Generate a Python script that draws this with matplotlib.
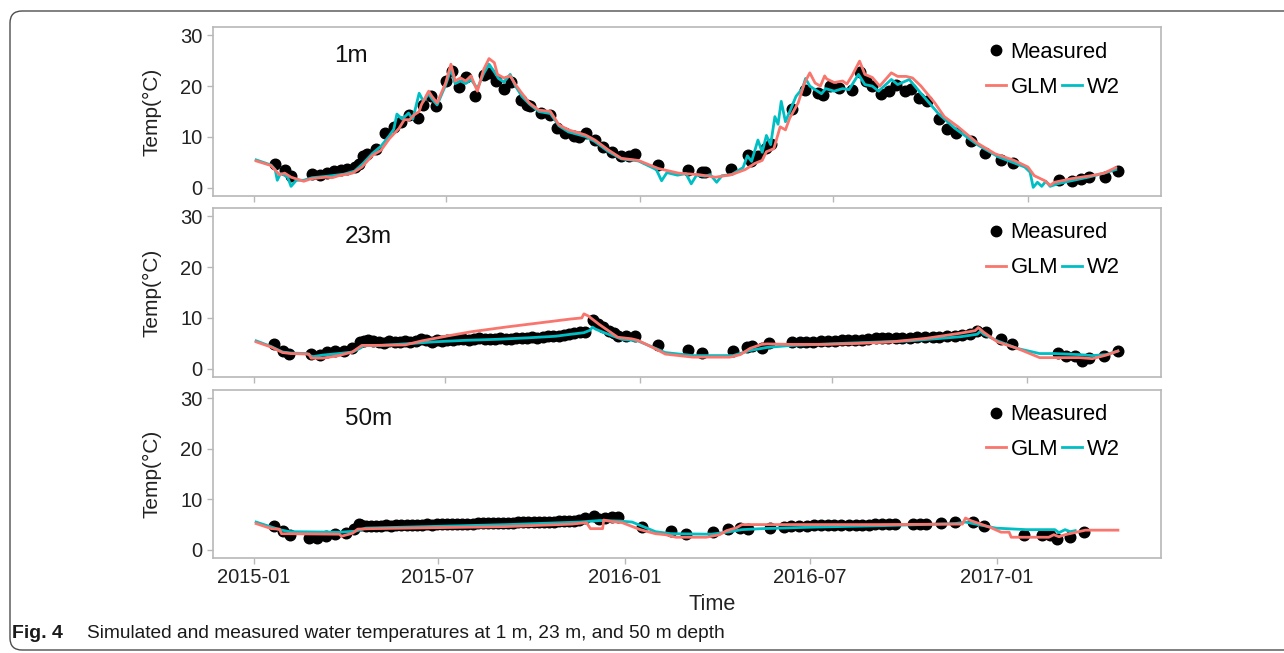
import numpy as np
import matplotlib
matplotlib.use('Agg')
import matplotlib.pyplot as plt
import matplotlib.dates as mdates
from matplotlib.lines import Line2D
from matplotlib.patches import FancyBboxPatch
from matplotlib.transforms import IdentityTransform

plt.rcParams['font.family'] = ['Liberation Sans', 'DejaVu Sans']

start = np.datetime64('2015-01-01')
depth_labels = ['1m', '23m', '50m']
glm_color = '#F8766D'
w2_color = '#00BFC4'

# ---- 1 m (days since 2015-01-01, temperature in degC)
meas1_day = [20, 29, 35, 55, 62, 69, 76, 82, 88, 95, 99, 103, 107, 115, 124, 132, 139, 146, 155, 160,
             167, 172, 181, 187, 194, 200, 209, 217, 222, 229, 236, 243, 252, 258, 261, 271, 280, 286,
             294, 302, 307, 314, 322, 330, 338, 347, 354, 360, 382, 410, 423, 426, 451, 467, 469, 476,
             484, 488, 508, 520, 533, 537, 544, 553, 565, 572, 578, 584, 592, 600, 606, 615, 621, 628,
             636, 647, 655, 663, 677, 690, 706, 717, 760, 773, 781, 789, 804, 816]
meas1_temp = [4.7, 3.6, 2.4, 2.8, 2.6, 2.9, 3.3, 3.6, 3.8, 4.1, 4.6, 6.2, 6.7, 7.7, 10.8, 12.0, 13.0, 14.3,
              13.7, 16.3, 18.0, 16.1, 21.0, 22.9, 19.8, 21.8, 18.1, 22.1, 22.6, 21.0, 19.4, 20.8, 17.2,
              16.3, 16.0, 14.7, 14.3, 11.7, 10.8, 10.2, 9.9, 10.8, 9.5, 8.1, 7.1, 6.2, 6.2, 6.6, 4.5,
              3.6, 3.2, 3.2, 3.8, 6.4, 5.2, 6.3, 7.8, 8.7, 15.5, 19.2, 18.6, 18.3, 20.0, 19.7, 19.3,
              22.7, 21.0, 20.0, 18.5, 19.0, 20.3, 19.0, 19.4, 17.7, 17.0, 13.5, 11.6, 10.8, 9.3, 6.9,
              5.4, 4.9, 1.5, 1.4, 1.7, 2.2, 2.1, 3.4]
glm1_day = [2, 16, 24, 29, 35, 47, 54, 68, 74, 80, 93, 102, 112, 120, 128, 137, 142, 147, 151, 156, 158,
            165, 168, 173, 181, 186, 190, 195, 200, 205, 211, 217, 222, 227, 230, 236, 242, 247, 253,
            260, 269, 280, 288, 297, 313, 322, 335, 347, 363, 382, 401, 420, 436, 451, 464, 473, 480,
            484, 491, 497, 502, 506, 514, 520, 525, 530, 535, 539, 541, 548, 556, 560, 565, 572, 577,
            584, 591, 602, 608, 616, 622, 630, 643, 652, 665, 684, 700, 718, 731, 737, 747, 752, 756,
            772, 791, 803, 814]
glm1_temp = [5.3, 4.4, 2.6, 2.9, 2.1, 1.3, 1.8, 2.1, 2.0, 2.4, 2.9, 4.1, 6.4, 7.4, 9.7, 11.7, 13.4, 13.4,
             14.3, 15.0, 16.3, 19.0, 18.0, 16.7, 20.6, 24.3, 21.0, 21.6, 21.0, 22.0, 19.0, 23.3, 25.4,
             24.6, 22.3, 21.6, 22.0, 20.3, 18.6, 16.7, 15.3, 15.0, 12.4, 11.4, 10.4, 9.4, 7.4, 5.8,
             5.4, 3.8, 2.9, 2.6, 2.1, 2.6, 3.6, 4.8, 5.4, 7.1, 7.7, 12.0, 11.4, 13.7, 16.7, 20.6, 22.6,
             20.6, 20.0, 22.0, 21.4, 20.7, 21.0, 20.4, 22.1, 24.9, 22.3, 21.7, 20.0, 22.6, 21.9, 21.9,
             21.6, 20.0, 16.7, 14.0, 12.0, 8.7, 6.7, 5.4, 4.1, 2.4, 1.4, 0.5, 1.1, 1.8, 2.4, 2.9, 4.0]
w21_day = [2, 16, 20, 22, 25, 29, 32, 35, 40, 47, 55, 70, 85, 95, 103, 112, 120, 128, 132, 135, 140,
           146, 150, 156, 160, 165, 168, 173, 181, 186, 190, 195, 200, 205, 211, 217, 222, 227, 231,
           236, 242, 247, 253, 260, 269, 280, 288, 297, 313, 322, 335, 347, 363, 380, 385, 390, 400,
           408, 413, 418, 426, 431, 437, 442, 451, 462, 466, 470, 476, 480, 484, 488, 492, 495, 498,
           502, 506, 512, 518, 521, 525, 530, 536, 540, 548, 556, 562, 571, 577, 584, 590, 602, 608,
           619, 627, 646, 662, 684, 703, 728, 733, 736, 740, 744, 748, 752, 759, 772, 788, 803, 814]
w21_temp = [5.5, 4.5, 3.6, 1.5, 2.8, 2.5, 2.0, 0.3, 1.5, 1.5, 2.0, 2.3, 2.7, 3.3, 4.8, 6.8, 8.2, 10.3,
            11.5, 14.5, 13.5, 14.7, 13.5, 18.6, 17.0, 18.5, 17.5, 16.3, 20.2, 23.3, 20.5, 21.0, 20.5,
            21.3, 19.5, 22.5, 24.3, 22.8, 21.5, 20.8, 22.3, 20.0, 18.0, 16.5, 15.0, 14.6, 12.2, 11.0,
            10.1, 9.1, 7.1, 5.7, 5.3, 3.6, 1.4, 3.0, 2.5, 2.8, 0.8, 2.5, 2.3, 2.6, 1.1, 2.4, 2.6, 4.0,
            6.3, 5.2, 9.4, 7.0, 10.3, 8.5, 14.0, 12.5, 17.0, 13.0, 15.0, 18.0, 19.5, 21.5, 20.0, 19.3,
            18.5, 19.5, 19.0, 19.5, 19.3, 22.3, 20.3, 20.0, 19.0, 21.3, 20.3, 21.3, 19.3, 14.7, 11.7,
            8.4, 6.1, 4.1, 3.1, 0.1, 1.1, 0.3, 1.3, 0.3, 0.8, 1.4, 2.1, 2.9, 3.6]

# ---- 23 m
meas23_day = [19, 27, 33, 54, 62, 69, 77, 85, 93, 100, 104, 108, 113, 118, 123, 128, 133, 138, 143, 148,
              153, 158, 163, 168, 173, 178, 183, 188, 193, 198, 203, 208, 213, 218, 223, 228, 233, 238,
              243, 248, 253, 258, 263, 268, 273, 278, 283, 288, 293, 298, 303, 308, 313, 321, 325, 330,
              336, 340, 344, 352, 360, 382, 410, 424, 453, 466, 471, 480, 487, 509, 516, 522, 529, 536,
              543, 549, 556, 562, 568, 575, 581, 588, 594, 600, 607, 613, 620, 627, 635, 642, 648, 655,
              663, 670, 677, 684, 692, 706, 717, 760, 768, 776, 783, 790, 804, 817]
meas23_temp = [4.9, 3.6, 2.9, 2.9, 2.7, 3.4, 3.6, 3.6, 4.0, 5.2, 5.5, 5.6, 5.5, 5.2, 5.1, 5.4, 5.3, 5.3,
               5.5, 5.3, 5.4, 5.8, 5.6, 5.3, 5.6, 5.5, 5.6, 5.7, 5.8, 5.9, 5.6, 5.9, 6.1, 5.9, 5.8, 5.9,
               6.0, 5.8, 5.9, 6.0, 6.1, 6.1, 6.2, 6.1, 6.3, 6.4, 6.5, 6.5, 6.7, 6.8, 7.0, 7.3, 7.2, 9.6,
               8.9, 8.2, 7.5, 7.0, 6.5, 6.5, 6.5, 4.6, 3.7, 3.2, 3.5, 4.2, 4.5, 4.1, 5.0, 5.2, 5.2, 5.2,
               5.3, 5.4, 5.5, 5.5, 5.6, 5.7, 5.7, 5.7, 5.9, 6.0, 6.1, 6.1, 6.1, 6.1, 6.1, 6.2, 6.2, 6.2,
               6.3, 6.4, 6.5, 6.7, 6.9, 7.5, 7.2, 5.9, 4.9, 3.2, 2.6, 2.5, 1.6, 2.2, 2.5, 3.5]
glm23_day = [2, 16, 27, 35, 52, 54, 65, 80, 93, 102, 112, 143, 159, 184, 206, 238, 269, 300, 310, 312,
             316, 326, 344, 357, 363, 380, 389, 415, 450, 460, 469, 480, 485, 508, 540, 572, 604, 636,
             668, 682, 685, 690, 703, 722, 743, 757, 780, 793, 806, 817]
glm23_temp = [5.3, 4.3, 3.2, 3.0, 2.9, 2.1, 2.1, 2.6, 3.3, 4.6, 4.6, 4.7, 5.5, 6.5, 7.3, 8.2, 9.0, 9.8,
              10.0, 10.8, 10.4, 8.8, 6.2, 5.9, 5.6, 3.9, 2.9, 2.3, 2.3, 2.8, 4.0, 4.8, 4.9, 4.8, 4.8,
              5.0, 5.3, 6.0, 7.0, 7.5, 8.1, 7.2, 5.3, 4.0, 2.2, 2.2, 2.2, 2.0, 2.7, 3.5]
w223_day = [2, 16, 27, 35, 50, 53, 56, 65, 80, 93, 100, 104, 120, 150, 170, 200, 230, 260, 285, 300,
            312, 318, 320, 323, 330, 340, 348, 363, 389, 415, 453, 469, 485, 508, 556, 620, 668, 684,
            687, 690, 703, 722, 743, 757, 780, 793, 806, 817]
w223_temp = [5.5, 4.4, 3.3, 3.1, 3.0, 2.6, 2.4, 2.7, 3.0, 3.3, 4.0, 4.6, 4.6, 5.0, 5.3, 5.6, 5.8, 6.1,
             6.4, 6.8, 7.1, 7.6, 8.2, 7.8, 7.2, 6.4, 5.8, 5.5, 3.2, 2.6, 2.6, 3.6, 4.2, 4.6, 5.0, 5.5,
             6.3, 6.8, 7.4, 6.8, 5.5, 4.0, 3.0, 3.0, 2.8, 2.6, 2.8, 3.5]

# ---- 50 m
meas50_day = [20, 28, 35, 54, 62, 71, 80, 90, 98, 103, 105, 110, 115, 120, 125, 130, 135, 140, 145, 150,
              155, 160, 165, 170, 175, 180, 185, 190, 195, 200, 205, 210, 215, 220, 225, 230, 235, 240,
              245, 250, 255, 260, 265, 270, 275, 280, 285, 290, 295, 300, 305, 310, 315, 320, 326, 334,
              339, 345, 352, 358, 382, 410, 425, 452, 466, 478, 486, 508, 521, 528, 536, 544, 551, 558,
              565, 571, 578, 585, 592, 598, 605, 611, 618, 625, 631, 648, 655, 661, 676, 690, 707, 718,
              758, 775, 783, 790, 803, 817]
meas50_temp = [4.8, 3.7, 2.9, 2.4, 2.4, 2.7, 3.1, 3.3, 4.1, 5.2, 4.9, 4.8, 4.7, 4.8, 4.8, 4.9, 4.8, 4.9,
               5.0, 5.0, 4.9, 5.0, 5.0, 5.1, 5.0, 5.1, 5.1, 5.1, 5.2, 5.2, 5.2, 5.2, 5.2, 5.3, 5.3, 5.3,
               5.3, 5.4, 5.4, 5.4, 5.4, 5.5, 5.5, 5.5, 5.5, 5.5, 5.6, 5.6, 5.6, 5.7, 5.7, 5.7, 5.8, 6.0,
               6.3, 6.6, 6.1, 6.3, 6.5, 6.5, 4.6, 3.8, 3.2, 3.5, 4.1, 4.4, 4.1, 4.4, 4.6, 4.7, 4.8, 4.8,
               4.9, 4.9, 4.9, 4.9, 4.9, 5.0, 5.0, 5.0, 5.0, 5.1, 5.1, 5.1, 5.1, 5.2, 5.2, 5.2, 5.4, 5.6,
               5.6, 4.7, 3.0, 3.0, 3.0, 2.1, 2.6, 3.5]
glm50_day = [2, 17, 25, 27, 84, 86, 97, 102, 116, 182, 247, 313, 327, 331, 343, 344, 352, 362, 380, 395,
             405, 415, 445, 458, 465, 475, 480, 528, 612, 697, 700, 705, 725, 735, 743, 745, 782, 787,
             792, 798, 818, 850]
glm50_temp = [5.2, 4.2, 4.1, 3.2, 3.1, 2.7, 3.3, 4.1, 4.2, 4.4, 4.6, 5.1, 5.4, 4.2, 4.2, 5.9, 5.6, 5.4,
              4.0, 3.2, 3.0, 2.5, 2.5, 3.0, 3.8, 4.4, 5.0, 5.0, 5.0, 5.1, 6.3, 5.8, 4.4, 3.5, 3.5, 2.5,
              2.5, 3.0, 2.6, 3.0, 3.9, 3.9]
w250_day = [2, 25, 35, 85, 100, 110, 150, 250, 320, 340, 360, 372, 395, 410, 450, 465, 480, 500, 550,
            620, 690, 700, 730, 760, 788, 792, 798, 803, 808]
w250_temp = [5.5, 4.0, 3.6, 3.5, 3.7, 4.3, 4.5, 5.0, 5.5, 5.8, 5.7, 5.5, 3.6, 3.2, 3.1, 3.5, 4.0, 4.2,
             4.5, 4.8, 5.2, 5.5, 4.3, 4.0, 4.0, 3.4, 4.0, 3.6, 3.8]

panels = [
    (meas1_day, meas1_temp, glm1_day, glm1_temp, w21_day, w21_temp),
    (meas23_day, meas23_temp, glm23_day, glm23_temp, w223_day, w223_temp),
    (meas50_day, meas50_temp, glm50_day, glm50_temp, w250_day, w250_temp),
]


def to_dates(days):
    return start + np.array(days, dtype='timedelta64[D]')


fig = plt.figure(figsize=(12.84, 6.53), dpi=100)

# rounded frame around the figure + caption
frame = FancyBboxPatch((10, 3), 1400, 639, boxstyle='round,pad=0,rounding_size=12',
                       transform=IdentityTransform(), facecolor='none',
                       edgecolor='#4d4d4d', linewidth=1.0)
fig.add_artist(frame)
fig.text(12 / 1284, 1 - 634 / 653, 'Fig. 4', fontsize=14, fontweight='bold',
         va='center', color='#1a1a1a')
fig.text(87 / 1284, 1 - 634 / 653,
         'Simulated and measured water temperatures at 1 m, 23 m, and 50 m depth',
         fontsize=13.8, va='center', color='#1a1a1a')

rects = [(0.1659, 0.6998, 0.7383, 0.2588),
         (0.1659, 0.4227, 0.7383, 0.2588),
         (0.1659, 0.1455, 0.7383, 0.2573)]
label_x = [0.128, 0.139, 0.139]

for i, (rect, data) in enumerate(zip(rects, panels)):
    md, mt, gd, gt, wd, wt = data
    ax = fig.add_axes(rect)
    ax.scatter(to_dates(md), mt, s=58, color='black', zorder=2)
    ax.plot(to_dates(wd), wt, color=w2_color, lw=2.0, zorder=3)
    ax.plot(to_dates(gd), gt, color=glm_color, lw=2.0, zorder=4)

    ax.set_ylim(-1.6, 31.6)
    ax.set_yticks([0, 10, 20, 30])
    ax.xaxis.set_major_locator(mdates.MonthLocator(bymonth=[1, 7]))
    ax.xaxis.set_major_formatter(mdates.DateFormatter('%Y-%m'))
    for sp in ax.spines.values():
        sp.set_color('#b8b8b8')
        sp.set_linewidth(1.2)
    ax.tick_params(colors='#b8b8b8', labelcolor='#222222', labelsize=14.5, length=4, width=1)
    if i < 2:
        ax.tick_params(axis='x', labelbottom=False)
    else:
        ax.set_xlabel('Time', fontsize=15.6, color='#222222')
        ax.xaxis.set_label_coords(0.527, -0.215)
    ax.set_ylabel('Temp(°C)', fontsize=15, color='#222222')
    ax.yaxis.set_label_coords(-0.054, 0.5)

    ax.text(label_x[i], 0.83, depth_labels[i], transform=ax.transAxes, fontsize=17.5,
            va='center', ha='left', color='#111111')

    h_meas = Line2D([], [], marker='o', color='black', linestyle='none', markersize=7.5)
    h_glm = Line2D([], [], color=glm_color, lw=2.0)
    h_w2 = Line2D([], [], color=w2_color, lw=2.0)
    leg1 = ax.legend([h_meas], ['Measured'], loc='center left', bbox_to_anchor=(0.815, 0.852),
                     frameon=False, fontsize=15.8, handlelength=0.91, handletextpad=0.22,
                     borderpad=0, borderaxespad=0)
    ax.add_artist(leg1)
    ax.legend([h_glm, h_w2], ['GLM', 'W2'], loc='center left', bbox_to_anchor=(0.815, 0.645),
              ncol=2, frameon=False, fontsize=15.8, handlelength=0.91, handletextpad=0.22,
              columnspacing=0.2, borderpad=0, borderaxespad=0)

fig.savefig('out.png', dpi=100)
